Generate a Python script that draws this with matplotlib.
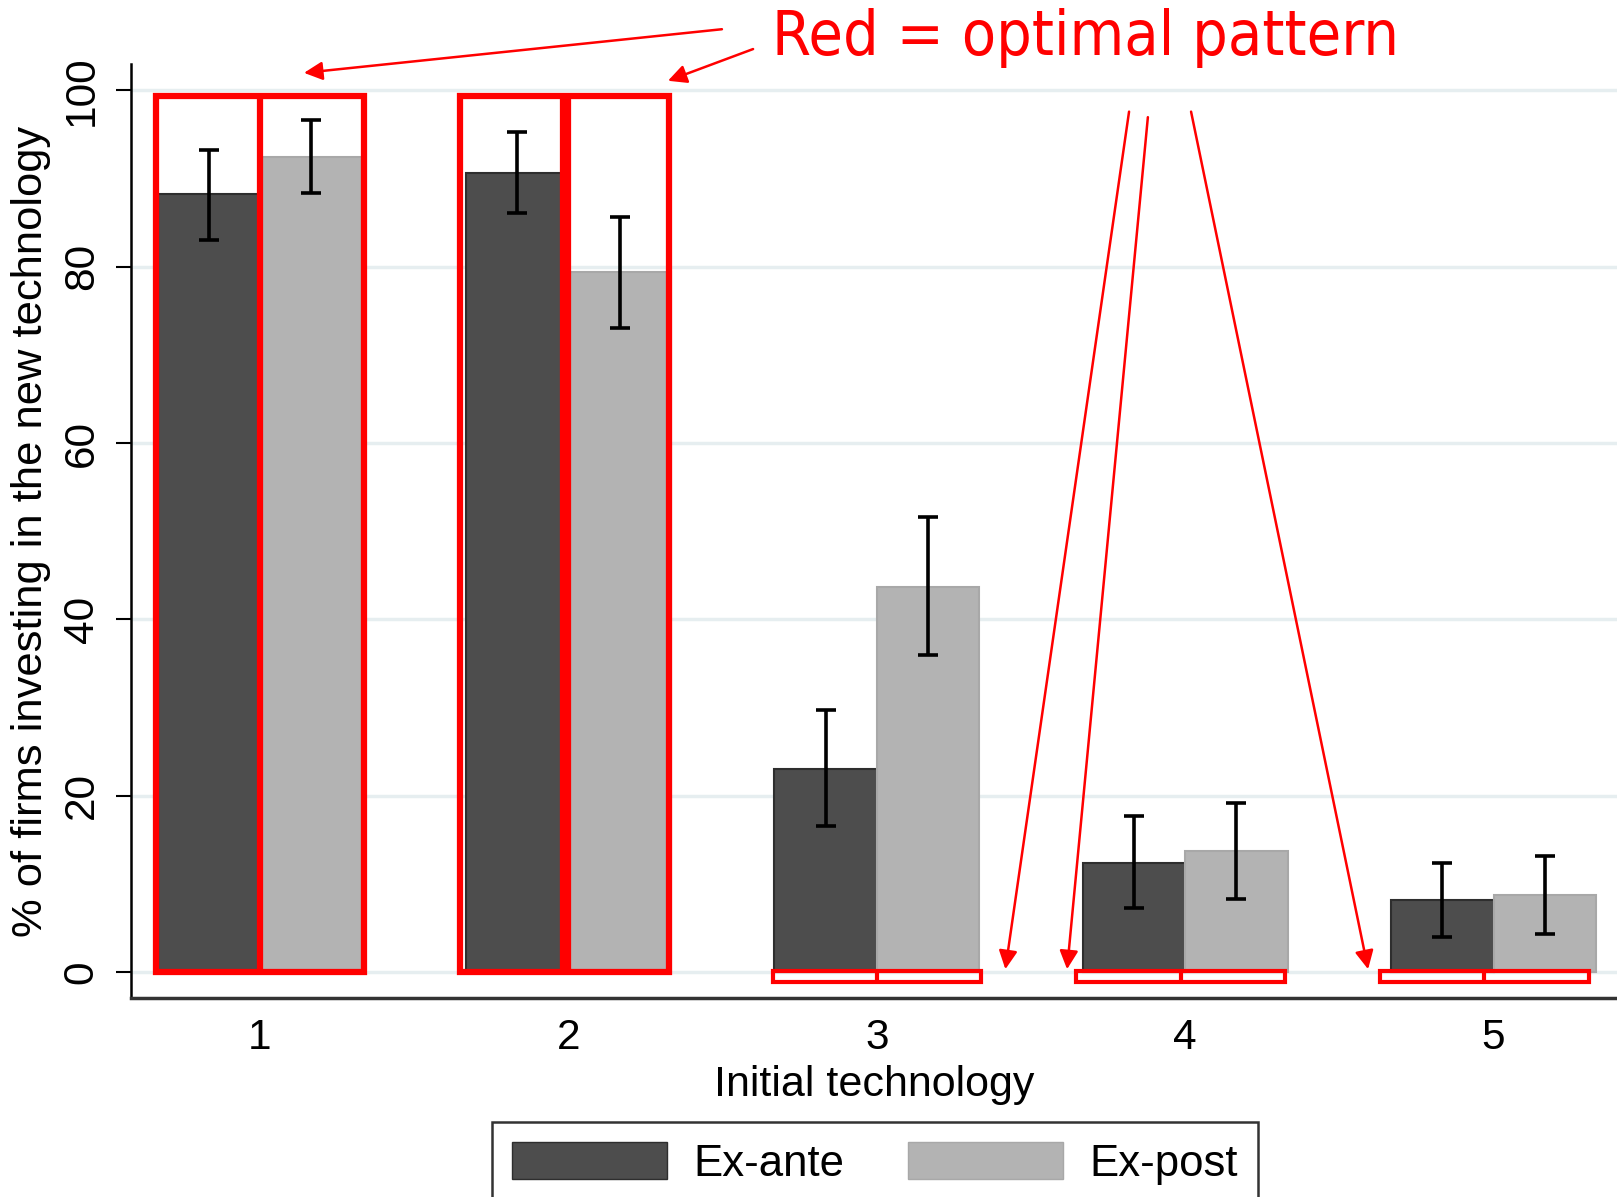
import numpy as np
import matplotlib.pyplot as plt
from matplotlib.patches import Patch, Rectangle

plt.rcParams['font.family'] = ['Liberation Sans', 'DejaVu Sans']

# data
tech = [1, 2, 3, 4, 5]
ex_ante = [88.2, 90.6, 23.0, 12.4, 8.1]
ex_ante_lo = [83.0, 86.1, 16.5, 7.3, 3.9]
ex_ante_hi = [93.2, 95.3, 29.7, 17.7, 12.4]
ex_post = [92.5, 79.4, 43.7, 13.7, 8.7]
ex_post_lo = [88.4, 73.0, 36.0, 8.3, 4.3]
ex_post_hi = [96.7, 85.7, 51.6, 19.2, 13.2]
optimal = [100, 100, 0, 0, 0]   # red boxes: optimal share

x = np.array(tech, dtype=float)
w = 0.332
dark = '#4d4d4d'
light = '#b3b3b3'

fig = plt.figure(figsize=(16.17, 11.97), dpi=100)
ax = fig.add_axes([0.081, 0.166, 0.919, 0.7805])

ax.bar(x - w/2, ex_ante, w, color=dark, edgecolor='#2e2e2e', linewidth=1.5, zorder=2)
ax.bar(x + w/2, ex_post, w, color=light, edgecolor='#a8a8a8', linewidth=1.5, zorder=2)

ea = np.array(ex_ante)
ep = np.array(ex_post)
ax.errorbar(x - w/2, ea, yerr=[ea - np.array(ex_ante_lo), np.array(ex_ante_hi) - ea],
            fmt='none', ecolor='black', elinewidth=2.6, capsize=7.5, capthick=2.6, zorder=3)
ax.errorbar(x + w/2, ep, yerr=[ep - np.array(ex_post_lo), np.array(ex_post_hi) - ep],
            fmt='none', ecolor='black', elinewidth=2.6, capsize=7.5, capthick=2.6, zorder=3)

# red boxes for the optimal pattern (hand drawn, slightly off-centre)
hw = 0.338
shift = [0, -0.012, 0, -0.015, -0.03]
for xi, opt, sh in zip(x, optimal, shift):
    xc = xi + sh
    if opt > 0:
        lw = 4.5
        y0, h = 0, opt - 0.6
    else:
        lw = 3.0
        y0, h = -1.2, 1.3
    ax.add_patch(Rectangle((xc - hw, y0), 2*hw, h, fill=False, edgecolor='red',
                           linewidth=lw, zorder=4, clip_on=False))
    dlw = lw * 1.8 if xi == 2 else lw
    ax.plot([xc, xc], [y0, y0 + h], color='red',
            linewidth=dlw, zorder=4, solid_capstyle='butt', clip_on=False)

ax.set_xlim(0.582, 5.40)
ax.set_ylim(-3, 103)
ax.set_yticks([0, 20, 40, 60, 80, 100])
ax.set_xticks(tech)
ax.tick_params(axis='y', labelsize=30.5, length=11, width=1.5, pad=10, labelrotation=90)
ax.tick_params(axis='x', labelsize=30.5, length=0, pad=14)
for lab in ax.get_yticklabels():
    lab.set_va('center')
ax.grid(axis='y', color='#e6eef0', linewidth=2.5, zorder=0)
ax.set_axisbelow(True)
for s in ['top', 'right']:
    ax.spines[s].set_visible(False)
ax.spines['left'].set_linewidth(1.8)
ax.spines['bottom'].set_linewidth(2.5)
ax.spines['bottom'].set_color('#333333')

ax.set_xlabel('Initial technology', fontsize=31, labelpad=5)
ax.set_ylabel('% of firms investing in the new technology', fontsize=31.3, labelpad=8)

# annotation
ax.text(3.678, 105.9, 'Red = optimal pattern', color='red', fontsize=45,
        family=['DejaVu Sans'], fontstretch='condensed', ha='center', va='center',
        clip_on=False)
arrows = [((2.498, 106.95), (1.143, 102.0)),
          ((2.599, 104.7), (2.323, 101.1)),
          ((3.818, 97.6), (3.417, 0.3)),
          ((3.879, 96.97), (3.617, 0.3)),
          ((4.019, 97.6), (4.593, 0.3))]
for start, end in arrows:
    ax.annotate('', xy=end, xytext=start, annotation_clip=False,
                arrowprops=dict(arrowstyle='-|>', color='red', lw=1.8,
                                mutation_scale=28, shrinkA=0, shrinkB=0))

handles = [Patch(facecolor=dark, edgecolor='#2e2e2e', label='Ex-ante'),
           Patch(facecolor=light, edgecolor='#a8a8a8', label='Ex-post')]
leg = fig.legend(handles=handles, loc='upper center', bbox_to_anchor=(0.541, 0.0627),
                 ncol=2, fontsize=31.5, frameon=True, fancybox=False, edgecolor='black',
                 handlelength=3.55, handleheight=0.95, handletextpad=0.6,
                 columnspacing=1.45, borderpad=0.45, borderaxespad=0)
leg.get_frame().set_linewidth(1.8)

fig.savefig('out.png', dpi=100)
